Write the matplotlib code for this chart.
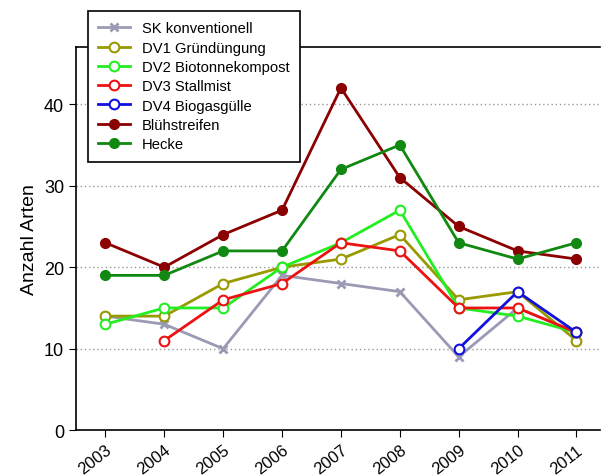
import matplotlib.pyplot as plt
import numpy as np

plt.rcParams['font.family'] = ['Liberation Sans', 'DejaVu Sans']

years = [2003, 2004, 2005, 2006, 2007, 2008, 2009, 2010, 2011]
nan = np.nan

sk = [14, 13, 10, 19, 18, 17, 9, 15, 12]
dv1 = [14, 14, 18, 20, 21, 24, 16, 17, 11]
dv2 = [13, 15, 15, 20, 23, 27, 15, 14, 12]
dv3 = [nan, 11, 16, 18, 23, 22, 15, 15, 12]
dv4 = [nan, nan, nan, nan, nan, nan, 10, 17, 12]
bluehstreifen = [23, 20, 24, 27, 42, 31, 25, 22, 21]
hecke = [19, 19, 22, 22, 32, 35, 23, 21, 23]

fig = plt.figure(figsize=(6.03, 4.77), dpi=100)
ax = fig.add_axes([0.126, 0.096, 0.869, 0.803])

for y in [10, 20, 30, 40]:
    ax.axhline(y, color='#999999', linestyle=(0, (1, 2)), linewidth=1, zorder=0)

ax.plot(years, sk, color='#9a9ab4', marker='x', ms=6, mew=2, lw=2, label='SK konventionell')
ax.plot(years, dv1, color='#999900', marker='o', ms=7, mfc='white', mew=1.5, lw=2, label='DV1 Gründüngung')
ax.plot(years, dv2, color='#22ee22', marker='o', ms=7, mfc='white', mew=1.5, lw=2, label='DV2 Biotonnekompost')
ax.plot(years, dv3, color='#ee1111', marker='o', ms=7, mfc='white', mew=1.5, lw=2, label='DV3 Stallmist')
ax.plot(years, dv4, color='#1111dd', marker='o', ms=7, mfc='white', mew=1.5, lw=2, label='DV4 Biogasgülle')
ax.plot(years, bluehstreifen, color='#8b0000', marker='o', ms=7, lw=2, label='Blühstreifen')
ax.plot(years, hecke, color='#118811', marker='o', ms=7, lw=2, label='Hecke')

ax.set_xlim(2002.5, 2011.4)
ax.set_ylim(0, 47)
ax.set_xticks(years)
ax.set_xticklabels([str(y) for y in years], rotation=38, ha='right', rotation_mode='anchor', fontsize=12)
ax.set_yticks([0, 10, 20, 30, 40])
ax.tick_params(axis='y', labelsize=13, length=5)
ax.tick_params(axis='x', length=5)
ax.set_ylabel('Anzahl Arten', fontsize=14)
ax.spines['right'].set_visible(False)
for s in ['left', 'bottom', 'top']:
    ax.spines[s].set_linewidth(1.2)

leg = fig.legend(loc='upper left', bbox_to_anchor=(0.133, 0.99), fontsize=10.6,
                 frameon=True, fancybox=False, edgecolor='black', framealpha=1,
                 handlelength=2.2, labelspacing=0.36, borderpad=0.7)
leg.get_frame().set_linewidth(1.2)

fig.savefig('out.png', dpi=100)
